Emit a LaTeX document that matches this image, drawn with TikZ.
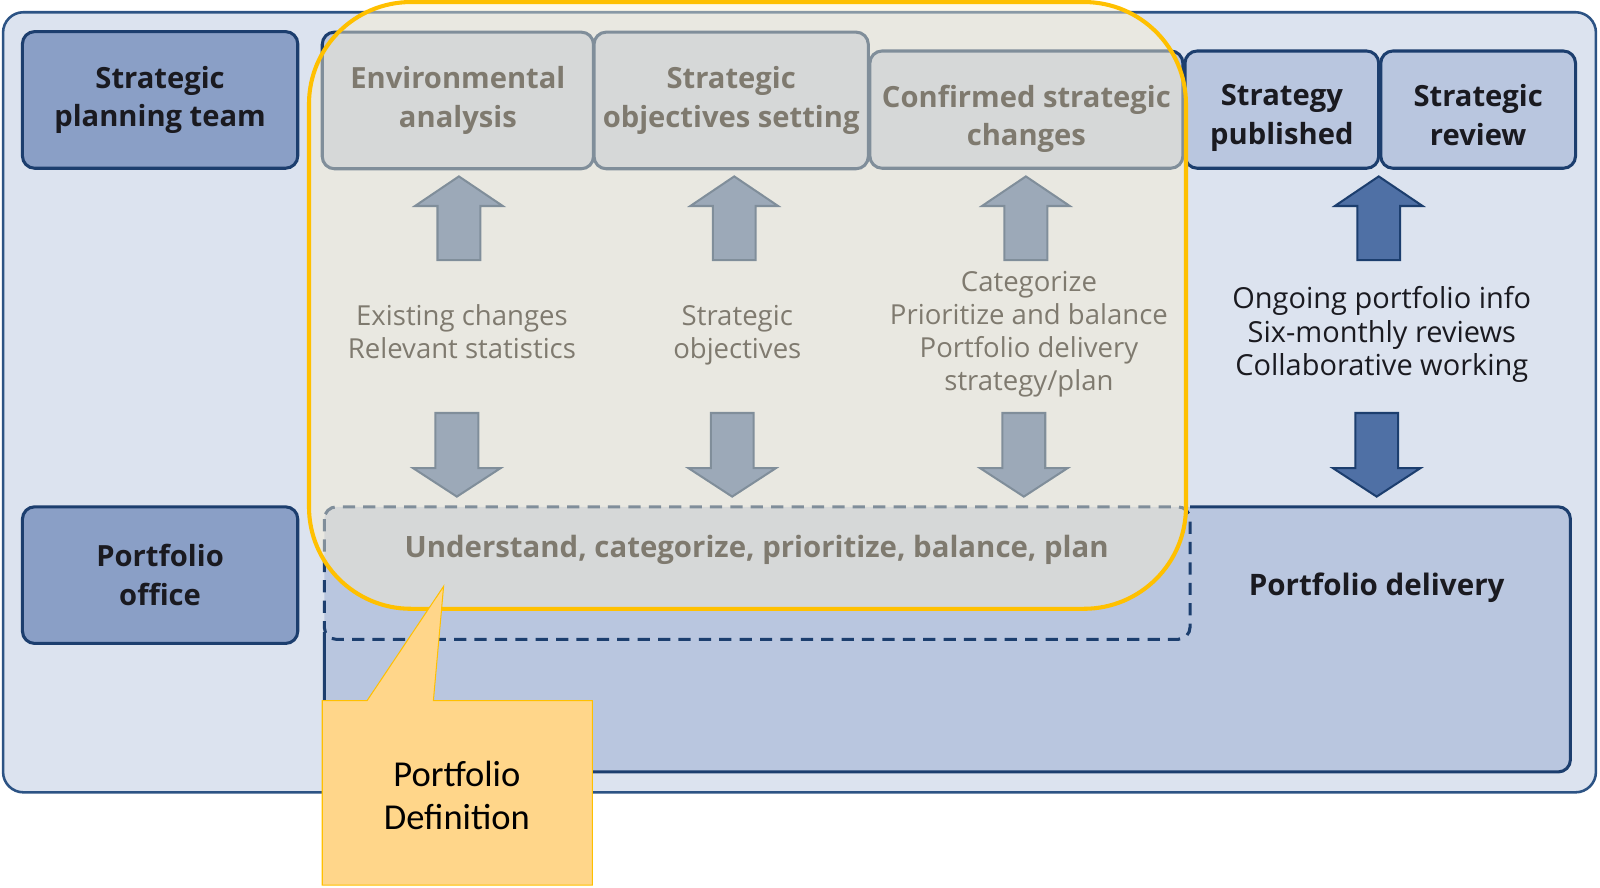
\documentclass[tikz,border=0pt]{standalone}
\usepackage{fontspec}
\setmainfont{Open Sans}
\newfontfamily\calloutfont{Carlito}
\definecolor{framebg}{HTML}{DCE3EF}
\definecolor{frameline}{HTML}{2C5384}
\definecolor{navyline}{HTML}{1C3E6E}
\definecolor{navyfill}{HTML}{8A9FC6}
\definecolor{paleblue}{HTML}{B9C6DF}
\definecolor{arrowblue}{HTML}{4F70A5}
\definecolor{veil}{HTML}{FBF0D1}
\definecolor{gold}{HTML}{FFC000}
\definecolor{callfill}{HTML}{FFD68A}
\definecolor{ink}{HTML}{1A1A20}
\begin{document}
\begin{tikzpicture}[x=0.5pt,y=-0.5pt,
    boxtitle/.style={align=center,text=ink,font=\fontsize{14.3}{19}\selectfont\bfseries},
    team/.style={boxtitle,draw=navyline,line width=1.5pt,fill=navyfill,rounded corners=6pt,
        minimum width=135pt,minimum height=67pt},
    stage/.style={team,fill=paleblue},
    info/.style={align=center,text=ink,font=\fontsize{13.5}{16.25}\selectfont},
    blockarrow/.style={draw=navyline,line width=1pt,fill=arrowblue}]
    \useasboundingbox (0,0) rectangle (1569,870);
    % outer frame
    \draw[frameline,line width=1.25pt,fill=framebg,rounded corners=10pt] (3,12) rectangle (1565,777);
    % roles
    \node[team] (plan) at (157,98) {Strategic\\planning team};
    \node[team] (office) at (157,564) {Portfolio\\office};
    % delivery panel
    \fill[paleblue,rounded corners=6pt] (318,497) rectangle (1540,757);
    \draw[navyline,line width=1.5pt,rounded corners=6pt] (1167,497) -- (1540,497) -- (1540,757) -- (318,757) -- (318,620);
    \draw[navyline,line width=1.5pt,dashed,dash pattern=on 6pt off 4pt,rounded corners=6pt] (318,497) rectangle (1167,627);
    \node[text=ink,font=\fontsize{14.4}{16}\selectfont\bfseries] (understand) at (742,539) {Understand, categorize, prioritize, balance, plan};
    \node[text=ink,font=\fontsize{14.5}{17}\selectfont\bfseries] (delivery) at (1350,576) {Portfolio delivery};
    % stages
    \node[stage,minimum width=133pt] (env) at (449,98.5) {Environmental\\analysis};
    \node[stage,minimum width=134.5pt] (obj) at (717,98.5) {Strategic\\objectives setting};
    \node[stage,minimum width=153.5pt,minimum height=57.5pt] (conf) at (1006.5,107.5) {};
    \node[stage,minimum width=95pt,minimum height=57.5pt] (pub) at (1257,107.5) {};
    \node[stage,minimum width=95.5pt,minimum height=57.5pt] (rev) at (1449.5,107.5) {};
    \node[boxtitle] (conftext) at ([yshift=-4.5pt]conf.center) {Confirmed strategic\\changes};
    \node[boxtitle] (pubtext) at ([yshift=-4pt]pub.center) {Strategy\\published};
    \node[boxtitle] (revtext) at ([yshift=-2.5pt]rev.center) {Strategic\\review};
    % block arrows
    \foreach \u/\d in {450/448,720/718,1006/1004,1352/1350}
        {
            \draw[blockarrow] (\u-21,255)--++(0,-53)--++(-22,0)--(\u,173)--++(43,29)--++(-22,0)--++(0,53)--cycle;
            \draw[blockarrow] (\d-21,405)--++(0,54)--++(-22,0)--(\d,487)--++(43,-28)--++(-22,0)--++(0,-54)--cycle;
        }
    \node[info] (lbl1) at (453,325) {Existing changes\\Relevant statistics};
    \node[info] (lbl2) at (723,329) {Strategic\\objectives};
    \node[info] (lbl3) at (1009,328) {Categorize\\Prioritize and balance\\Portfolio delivery\\strategy/plan};
    \node[info,font=\fontsize{14.2}{16.25}\selectfont] (lbl4) at (1355,328) {Ongoing portfolio info\\Six-monthly reviews\\Collaborative working};
    % highlight of the definition part
    \fill[veil,opacity=0.45,rounded corners=50pt] (303,2) rectangle (1163,597);
    \draw[gold,line width=2pt,rounded corners=50pt] (303,2) rectangle (1163,597);
    \draw[gold,line width=0.5pt,fill=callfill] (316,687)--(360,687)--(435,575)--(425,687)--(581,687)--(581,868)--(316,868)--cycle;
    \node[align=center,font=\calloutfont\fontsize{17.9}{21.5}\selectfont] (defn) at (448,780) {Portfolio\\Definition};
\end{tikzpicture}
\end{document}
